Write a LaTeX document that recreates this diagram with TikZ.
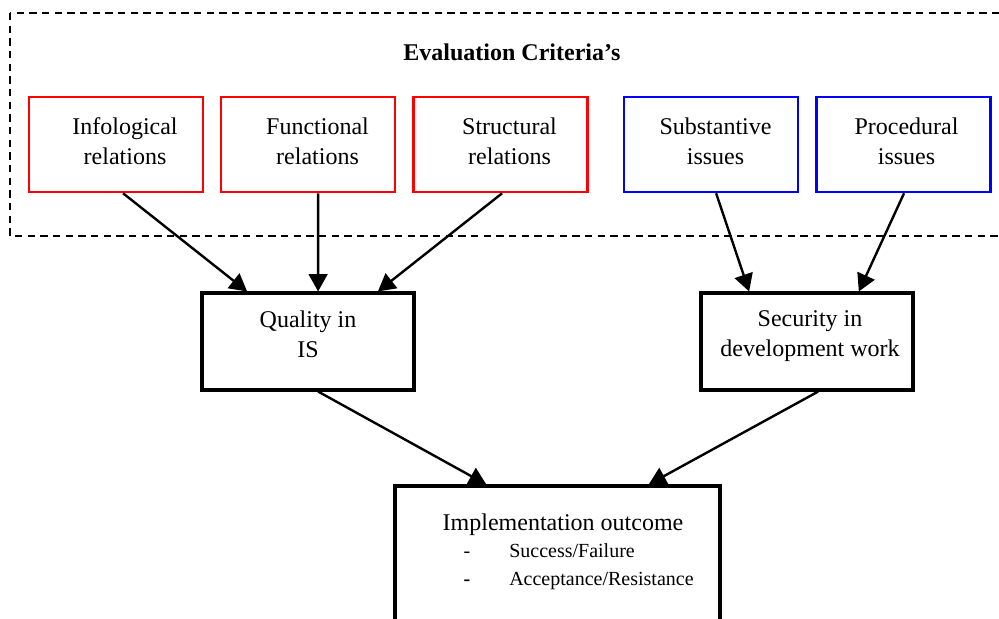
\documentclass[tikz,border=0pt]{standalone}
\usepackage{fontspec}
\setmainfont{Liberation Serif}
\usetikzlibrary{arrows.meta,calc}
\definecolor{critred}{RGB}{255,0,0}
\definecolor{critblue}{RGB}{0,0,255}

\begin{document}
\begin{tikzpicture}[x=0.75pt,y=-0.75pt,
  critbox/.style={rectangle, draw, line width=1.9pt, inner sep=0pt,
                  minimum width=130.5pt, minimum height=71.25pt},
  redbox/.style={critbox, draw=critred},
  bluebox/.style={critbox, draw=critblue},
  mainbox/.style={rectangle, draw=black, line width=2.3pt, inner sep=0pt},
  lbl/.style={font=\fontsize{18}{22.5}\selectfont, align=center, inner sep=0pt},
  smalllbl/.style={font=\fontsize{15}{18}\selectfont, inner sep=0pt},
  arr/.style={line width=1.8pt, -{Triangle[length=13pt,width=14pt]}},
  frame/.style={line width=1.2pt, dash pattern=on 5.5pt off 4pt}
]
\useasboundingbox (0,0) rectangle (999,618);
\clip (0,0) rectangle (999,618);

% dashed frame around the evaluation criteria
\draw[frame] (10,13) rectangle (1010,236);
\node[lbl, font=\fontsize{18}{22.5}\selectfont\bfseries, anchor=base] (title) at (512,60) {Evaluation Criteria’s};

% criteria boxes
\node[redbox]  (info)   at (116,144.5) {};
\node[redbox]  (func)   at (308,144.5) {};
\node[redbox]  (struct) at (500.5,144.5) {};
\node[bluebox] (subst)  at (711,144.5) {};
\node[bluebox] (proc)   at (903.5,144.5) {};

\node[lbl] (infoT)   at (125,141)   {Infological\\relations};
\node[lbl] (funcT)   at (317.5,141) {Functional\\relations};
\node[lbl] (structT) at (509.5,141) {Structural\\relations};
\node[lbl] (substT)  at (715.5,141) {Substantive\\issues};
\node[lbl] (procT)   at (906.5,141) {Procedural\\issues};

% intermediate boxes
\node[mainbox, minimum width=159pt, minimum height=72.75pt] (qual) at (308,341.5) {};
\node[mainbox, minimum width=159pt, minimum height=72.75pt] (secu) at (807,341.5) {};
\node[lbl] (qualT) at (308,333.8) {Quality in\\IS};
\node[lbl] (secuT) at (810,335.9) {Security in\\development work};

% outcome box (runs past the lower edge)
\node[mainbox, minimum width=243.75pt, minimum height=115.5pt] (impl) at (557.5,563) {};
\node[lbl, anchor=base] (implT) at (563,530) {Implementation outcome};
\node[smalllbl, anchor=base] (dash1) at (467,557) {-};
\node[smalllbl, anchor=base, font=\fontsize{15}{18}\selectfont\bfseries] (dash2) at (467,585) {-};
\node[smalllbl, anchor=base west] (succ) at (509,557) {Success/Failure};
\node[smalllbl, anchor=base west] (acc)  at (509,585) {Acceptance/Resistance};

% connectors
\draw[arr] ($(info.south west)!0.54!(info.south east)$)   -- ($(qual.north west)!0.217!(qual.north east)$);
\draw[arr] ($(func.south west)!0.557!(func.south east)$)  -- ($(qual.north west)!0.547!(qual.north east)$);
\draw[arr] ($(struct.south west)!0.509!(struct.south east)$) -- ($(qual.north west)!0.825!(qual.north east)$);
\draw[arr] ($(subst.south west)!0.529!(subst.south east)$) -- ($(secu.north west)!0.231!(secu.north east)$);
\draw[arr] ($(proc.south west)!0.503!(proc.south east)$)  -- ($(secu.north west)!0.741!(secu.north east)$);
\draw[arr] ($(qual.south west)!0.547!(qual.south east)$)  -- ($(impl.north west)!0.283!(impl.north east)$);
\draw[arr] ($(secu.south west)!0.552!(secu.south east)$)  -- ($(impl.north west)!0.778!(impl.north east)$);
\end{tikzpicture}
\end{document}
